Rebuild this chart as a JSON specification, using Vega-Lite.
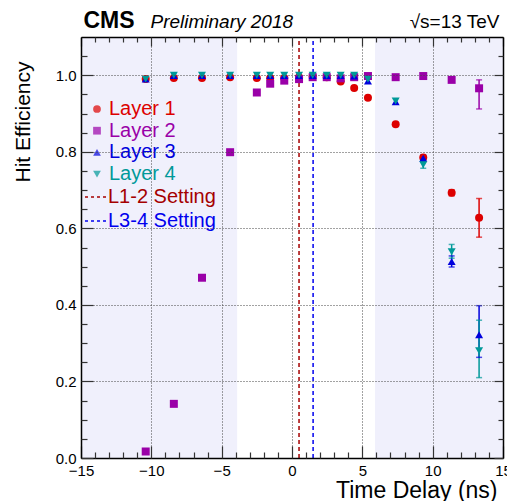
{
  "$schema": "https://vega.github.io/schema/vega-lite/v6.json",
  "width": 422,
  "height": 421,
  "autosize": {"type": "none"},
  "padding": {"left": 81, "top": 37, "right": 4, "bottom": 43},
  "background": "white",
  "config": {
    "view": {"stroke": null},
    "font": "Liberation Sans",
    "axis": {"labelFont": "Liberation Sans", "titleFont": "Liberation Sans", "labelColor": "black", "titleColor": "black", "titleFontWeight": "normal", "domain": false, "grid": false, "labels": false, "title": null, "tickColor": "#333", "tickWidth": 1.2},
    "legend": {"orient": "none", "title": null, "padding": 0, "labelFont": "Liberation Sans", "labelFontSize": 20, "rowPadding": 2}
  },
  "datasets": {
    "bands": [{"a": -15, "b": -3.9, "y0": 0, "y1": 1.1}, {"a": 5.9, "b": 15, "y0": 0, "y1": 1.1}],
    "pts": [
      {"t": -10.4, "eff": 0.99, "layer": "Layer 1"},
      {"t": -8.4, "eff": 0.993, "layer": "Layer 1"},
      {"t": -6.4, "eff": 0.993, "layer": "Layer 1"},
      {"t": -4.4, "eff": 0.995, "layer": "Layer 1"},
      {"t": -2.5, "eff": 0.993, "layer": "Layer 1"},
      {"t": -1.55, "eff": 0.993, "layer": "Layer 1"},
      {"t": -0.55, "eff": 0.993, "layer": "Layer 1"},
      {"t": 0.5, "eff": 0.995, "layer": "Layer 1"},
      {"t": 1.47, "eff": 0.997, "layer": "Layer 1"},
      {"t": 2.47, "eff": 0.995, "layer": "Layer 1"},
      {"t": 3.46, "eff": 0.984, "layer": "Layer 1"},
      {"t": 4.42, "eff": 0.967, "layer": "Layer 1"},
      {"t": 5.4, "eff": 0.941, "layer": "Layer 1"},
      {"t": 7.37, "eff": 0.872, "layer": "Layer 1"},
      {"t": 9.33, "eff": 0.785, "layer": "Layer 1"},
      {"t": 11.35, "eff": 0.693, "layer": "Layer 1"},
      {"t": 13.3, "eff": 0.628, "layer": "Layer 1"},
      {"t": -10.4, "eff": 0.017, "layer": "Layer 2"},
      {"t": -8.4, "eff": 0.1415, "layer": "Layer 2"},
      {"t": -6.4, "eff": 0.471, "layer": "Layer 2"},
      {"t": -4.4, "eff": 0.799, "layer": "Layer 2"},
      {"t": -2.5, "eff": 0.955, "layer": "Layer 2"},
      {"t": -1.55, "eff": 0.978, "layer": "Layer 2"},
      {"t": -0.55, "eff": 0.986, "layer": "Layer 2"},
      {"t": 0.5, "eff": 0.99, "layer": "Layer 2"},
      {"t": 1.47, "eff": 0.995, "layer": "Layer 2"},
      {"t": 2.47, "eff": 0.995, "layer": "Layer 2"},
      {"t": 3.46, "eff": 0.992, "layer": "Layer 2"},
      {"t": 4.42, "eff": 0.995, "layer": "Layer 2"},
      {"t": 5.4, "eff": 0.998, "layer": "Layer 2"},
      {"t": 7.37, "eff": 0.995, "layer": "Layer 2"},
      {"t": 9.33, "eff": 0.998, "layer": "Layer 2"},
      {"t": 11.35, "eff": 0.988, "layer": "Layer 2"},
      {"t": 13.3, "eff": 0.966, "layer": "Layer 2"},
      {"t": -10.4, "eff": 0.99, "layer": "Layer 3"},
      {"t": -8.4, "eff": 0.999, "layer": "Layer 3"},
      {"t": -6.4, "eff": 0.999, "layer": "Layer 3"},
      {"t": -4.4, "eff": 0.999, "layer": "Layer 3"},
      {"t": -2.5, "eff": 0.999, "layer": "Layer 3"},
      {"t": -1.55, "eff": 0.999, "layer": "Layer 3"},
      {"t": -0.55, "eff": 0.999, "layer": "Layer 3"},
      {"t": 0.5, "eff": 0.999, "layer": "Layer 3"},
      {"t": 1.47, "eff": 0.999, "layer": "Layer 3"},
      {"t": 2.47, "eff": 0.999, "layer": "Layer 3"},
      {"t": 3.46, "eff": 0.999, "layer": "Layer 3"},
      {"t": 4.42, "eff": 0.998, "layer": "Layer 3"},
      {"t": 5.4, "eff": 0.985, "layer": "Layer 3"},
      {"t": 7.37, "eff": 0.931, "layer": "Layer 3"},
      {"t": 9.33, "eff": 0.783, "layer": "Layer 3"},
      {"t": 11.35, "eff": 0.513, "layer": "Layer 3"},
      {"t": 13.3, "eff": 0.322, "layer": "Layer 3"},
      {"t": -10.4, "eff": 0.99, "layer": "Layer 4"},
      {"t": -8.4, "eff": 1.0, "layer": "Layer 4"},
      {"t": -6.4, "eff": 1.0, "layer": "Layer 4"},
      {"t": -4.4, "eff": 1.0, "layer": "Layer 4"},
      {"t": -2.5, "eff": 1.0, "layer": "Layer 4"},
      {"t": -1.55, "eff": 1.0, "layer": "Layer 4"},
      {"t": -0.55, "eff": 1.0, "layer": "Layer 4"},
      {"t": 0.5, "eff": 1.0, "layer": "Layer 4"},
      {"t": 1.47, "eff": 1.0, "layer": "Layer 4"},
      {"t": 2.47, "eff": 1.0, "layer": "Layer 4"},
      {"t": 3.46, "eff": 1.0, "layer": "Layer 4"},
      {"t": 4.42, "eff": 1.0, "layer": "Layer 4"},
      {"t": 5.4, "eff": 0.99, "layer": "Layer 4"},
      {"t": 7.37, "eff": 0.933, "layer": "Layer 4"},
      {"t": 9.33, "eff": 0.766, "layer": "Layer 4"},
      {"t": 11.35, "eff": 0.539, "layer": "Layer 4"},
      {"t": 13.3, "eff": 0.28, "layer": "Layer 4"}
    ],
    "errs": [
      {"t": 11.35, "lo": 0.685, "hi": 0.701, "layer": "Layer 1"},
      {"t": 13.3, "lo": 0.577, "hi": 0.678, "layer": "Layer 1"},
      {"t": 13.3, "lo": 0.912, "hi": 0.988, "layer": "Layer 2"},
      {"t": 9.33, "lo": 0.774, "hi": 0.792, "layer": "Layer 3"},
      {"t": 11.35, "lo": 0.499, "hi": 0.528, "layer": "Layer 3"},
      {"t": 13.3, "lo": 0.263, "hi": 0.398, "layer": "Layer 3"},
      {"t": 9.33, "lo": 0.757, "hi": 0.775, "layer": "Layer 4"},
      {"t": 11.35, "lo": 0.522, "hi": 0.558, "layer": "Layer 4"},
      {"t": 13.3, "lo": 0.21, "hi": 0.36, "layer": "Layer 4"}
    ],
    "settings": [{"t": 0.5, "setting": "L1-2 Setting"}, {"t": 1.5, "setting": "L3-4 Setting"}]
  },
  "resolve": {"axis": {"x": "independent", "y": "independent"}},
  "layer": [
    {
      "data": {"name": "bands"},
      "mark": {"type": "rect", "fill": "#f0f0fc"},
      "encoding": {
        "x": {"field": "a", "type": "quantitative", "scale": {"domain": [-15, 15], "nice": false, "zero": false},
          "axis": {"orient": "bottom", "zindex": 1, "values": [-15, -10, -5, 0, 5, 10, 15], "ticks": false, "grid": true, "gridDash": [1, 2], "gridColor": "#444", "gridWidth": 1, "domain": true, "domainColor": "black", "domainWidth": 1.5,
            "title": "Time Delay (ns)", "titleFontSize": 23, "titleAnchor": null, "titleAlign": "right", "titleBaseline": "alphabetic", "titleX": 416, "titleY": 39}},
        "x2": {"field": "b"},
        "y": {"field": "y0", "type": "quantitative", "scale": {"domain": [0, 1.1], "nice": false, "zero": false},
          "axis": {"orient": "left", "zindex": 1, "values": [0, 0.2, 0.4, 0.6, 0.8, 1.0], "ticks": false, "grid": true, "gridDash": [1, 2], "gridColor": "#444", "gridWidth": 1, "domain": true, "domainColor": "black", "domainWidth": 1.5,
            "title": "Hit Efficiency", "titleFontSize": 21, "titleAnchor": null, "titleAngle": 270, "titleAlign": "right", "titleBaseline": "alphabetic", "titleX": -52, "titleY": 24}},
        "y2": {"field": "y1"}
      }
    },
    {
      "data": {"name": "settings"},
      "mark": {"type": "rule", "strokeDash": [4, 3], "strokeWidth": 1.5},
      "encoding": {
        "x": {"field": "t", "type": "quantitative",
          "axis": {"orient": "top", "zindex": 1, "values": [0], "ticks": false, "domain": true, "domainColor": "black", "domainWidth": 1.5}},
        "y": {"datum": 0, "type": "quantitative",
          "axis": {"orient": "right", "zindex": 1, "values": [0], "ticks": false, "domain": true, "domainColor": "black", "domainWidth": 1.5}},
        "y2": {"datum": 1.1},
        "stroke": {"field": "setting", "type": "nominal",
          "scale": {"domain": ["L1-2 Setting", "L3-4 Setting"], "range": ["#a50000", "#0000ee"]},
          "legend": {"legendX": 3, "legendY": 148, "symbolType": "stroke", "symbolSize": 484, "symbolStrokeWidth": 1.5, "symbolDash": [3, 3], "labelOffset": 0,
            "labelColor": {"expr": "datum.value === 'L1-2 Setting' ? '#a50000' : '#0000ee'"}}}
      }
    },
    {
      "data": {"name": "errs"},
      "mark": {"type": "rule", "strokeWidth": 1.5},
      "encoding": {
        "x": {"field": "t", "type": "quantitative",
          "axis": {"orient": "top", "zindex": 1, "values": [-15, -10, -5, 0, 5, 10, 15], "tickSize": 9, "offset": -9,
            "title": "Preliminary 2018", "titleFontSize": 19, "titleFontStyle": "italic", "titleAnchor": null, "titleAlign": "left", "titleBaseline": "alphabetic", "titleX": 69, "titleY": -19}},
        "y": {"field": "lo", "type": "quantitative",
          "axis": {"orient": "right", "zindex": 1, "values": [0, 0.2, 0.4, 0.6, 0.8, 1.0], "tickSize": 9, "offset": -9,
            "title": "√s=13 TeV", "titleFontSize": 19, "titleAngle": 0, "titleAnchor": null, "titleAlign": "right", "titleBaseline": "alphabetic", "titleX": 5, "titleY": -10}},
        "y2": {"field": "hi"},
        "color": {"field": "layer", "type": "nominal"}
      }
    },
    {
      "data": {"name": "errs"},
      "mark": {"type": "tick", "orient": "horizontal", "size": 6, "thickness": 1.5},
      "encoding": {
        "x": {"field": "t", "type": "quantitative",
          "axis": {"orient": "top", "zindex": 1, "values": [-14, -13, -12, -11, -9, -8, -7, -6, -4, -3, -2, -1, 1, 2, 3, 4, 6, 7, 8, 9, 11, 12, 13, 14], "tickSize": 5, "offset": -5,
            "title": "CMS", "titleFontSize": 23, "titleFontWeight": "bold", "titleAnchor": null, "titleAlign": "left", "titleBaseline": "alphabetic", "titleX": 2, "titleY": -15}},
        "y": {"field": "lo", "type": "quantitative",
          "axis": {"orient": "left", "zindex": 1, "values": [0.05, 0.1, 0.15, 0.25, 0.3, 0.35, 0.45, 0.5, 0.55, 0.65, 0.7, 0.75, 0.85, 0.9, 0.95, 1.05], "tickSize": 6, "offset": -6}},
        "color": {"field": "layer", "type": "nominal"}
      }
    },
    {
      "data": {"name": "errs"},
      "mark": {"type": "tick", "orient": "horizontal", "size": 6, "thickness": 1.5},
      "encoding": {
        "x": {"field": "t", "type": "quantitative",
          "axis": {"orient": "bottom", "zindex": 1, "values": [-14, -13, -12, -11, -9, -8, -7, -6, -4, -3, -2, -1, 1, 2, 3, 4, 6, 7, 8, 9, 11, 12, 13, 14], "tickSize": 6, "offset": -6}},
        "y": {"field": "hi", "type": "quantitative",
          "axis": {"orient": "right", "zindex": 1, "values": [0.05, 0.1, 0.15, 0.25, 0.3, 0.35, 0.45, 0.5, 0.55, 0.65, 0.7, 0.75, 0.85, 0.9, 0.95, 1.05], "tickSize": 5, "offset": -5}},
        "color": {"field": "layer", "type": "nominal"}
      }
    },
    {
      "data": {"name": "pts"},
      "mark": {"type": "point", "filled": true, "opacity": 1, "size": 64, "strokeWidth": 0},
      "encoding": {
        "x": {"field": "t", "type": "quantitative",
          "axis": {"orient": "bottom", "zindex": 1, "values": [-15, -10, -5, 0, 5, 10, 15], "tickSize": 12, "offset": -12, "labels": true, "labelPadding": 5, "labelFontSize": 15, "labelFlush": false}},
        "y": {"field": "eff", "type": "quantitative",
          "axis": {"orient": "left", "zindex": 1, "values": [0, 0.2, 0.4, 0.6, 0.8, 1.0], "format": ".1f", "tickSize": 12, "offset": -12, "labels": true, "labelPadding": 5, "labelFontSize": 15, "labelFlush": false}},
        "color": {"field": "layer", "type": "nominal",
          "scale": {"domain": ["Layer 1", "Layer 2", "Layer 3", "Layer 4"], "range": ["#dd0000", "#9a00a8", "#0000dd", "#009999"]},
          "legend": {"legendX": 6, "legendY": 62, "symbolSize": 60, "symbolStrokeWidth": 0, "labelOffset": 2, "rowPadding": 1.7,
            "labelColor": {"expr": "datum.value === 'Layer 1' ? '#dd0000' : datum.value === 'Layer 2' ? '#9a00a8' : datum.value === 'Layer 3' ? '#0000dd' : '#009999'"}}},
        "shape": {"field": "layer", "type": "nominal",
          "scale": {"domain": ["Layer 1", "Layer 2", "Layer 3", "Layer 4"], "range": ["circle", "square", "triangle-up", "triangle-down"]},
          "legend": {"legendX": 6, "legendY": 62, "symbolSize": 60, "symbolStrokeWidth": 0, "labelOffset": 2, "rowPadding": 1.7,
            "labelColor": {"expr": "datum.value === 'Layer 1' ? '#dd0000' : datum.value === 'Layer 2' ? '#9a00a8' : datum.value === 'Layer 3' ? '#0000dd' : '#009999'"}}}
      }
    }
  ]
}
